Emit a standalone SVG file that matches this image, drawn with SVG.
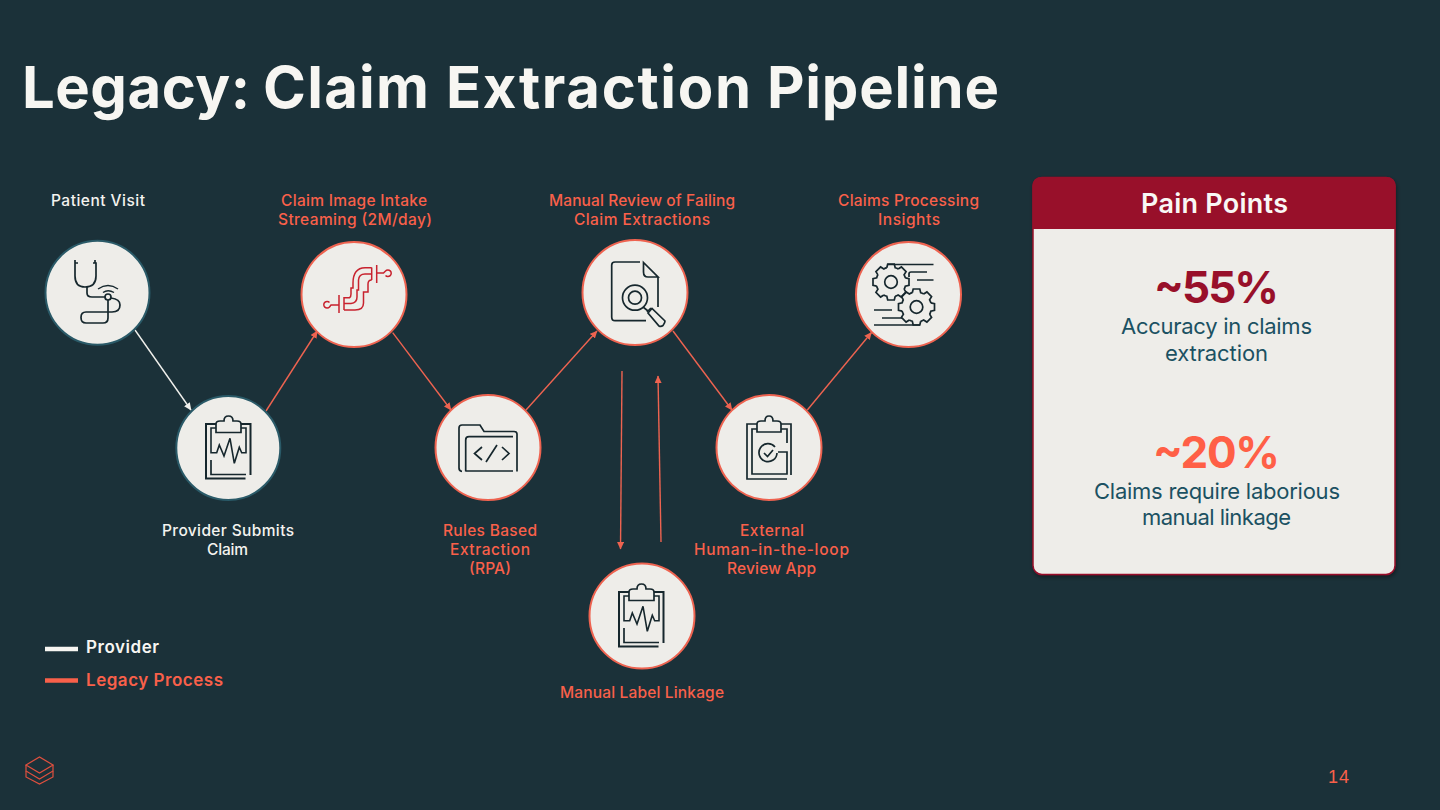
<svg xmlns="http://www.w3.org/2000/svg" width="1440" height="810" viewBox="0 0 1440 810">
<style>
text{font-family:"Inter","Noto Sans","Liberation Sans",sans-serif;letter-spacing:0}
.lb{font-size:15.5px;font-weight:500}
.w{fill:#F4F3EF}.o{fill:#F9604A}
.c{fill:#EEEDE9;stroke-width:2}
.cw{stroke:#2A5A68}.co{stroke:#EE6350}
.ic{fill:none;stroke:#16272D;stroke-width:1.7}
.cn{fill:none;stroke-width:1.4}
.so{stroke:#EE6350}.sw{stroke:#F0F0EC}
</style>
<defs>
<marker id="ao" markerWidth="8" markerHeight="8" refX="7" refY="3.5" orient="auto" markerUnits="userSpaceOnUse"><path d="M0,0L7.5,3.5L0,7z" fill="#EE6350"/></marker>
<marker id="aw" markerWidth="8" markerHeight="8" refX="7" refY="3.5" orient="auto" markerUnits="userSpaceOnUse"><path d="M0,0L7.5,3.5L0,7z" fill="#F0F0EC"/></marker>
<g id="clip" class="ic">
<path d="M216,424H206V478.500H245.500" stroke-width="2"/><path d="M241,424H250.500V475" stroke-width="2"/>
<path d="M216,428H211V452.700H216.700L219.300,445L224,456L230,438.300L234.300,463.300L239.300,447.300L241.700,452.700H246V428H241" stroke-width="1.600"/>
<path d="M211,460V474.500H246"/>
<path d="M216,424Q216,421 220,421H224Q224,416 228.500,416Q233,416 233,421H237Q241,421 241,424V432.500H216Z"/>
</g>
<path id="t" d="M-4.200,-14.300L-3.300,-18H3.300L4.200,-14.300A15,15 0 0 1 7.300,-13.100"/>
<g id="gear" class="ic">
<use href="#t"/><use href="#t" transform="rotate(45)"/><use href="#t" transform="rotate(90)"/><use href="#t" transform="rotate(135)"/><use href="#t" transform="rotate(180)"/><use href="#t" transform="rotate(225)"/><use href="#t" transform="rotate(270)"/><use href="#t" transform="rotate(315)"/>
<circle r="6.300"/>
</g>
<filter id="sh" x="-5%" y="-5%" width="110%" height="110%"><feDropShadow dx="1" dy="2" stdDeviation="2" flood-color="#000" flood-opacity=".4"/></filter>
</defs>
<rect width="1440" height="810" fill="#1B3139"/>
<text y="108" font-size="58" font-weight="700" fill="#F7F6F2"><tspan x="22" textLength="228">Legacy:</tspan> <tspan x="263" textLength="166">Claim</tspan> <tspan x="446" textLength="305">Extraction</tspan> <tspan x="767" textLength="232">Pipeline</tspan></text>

<g id="connectors">
<path class="cn sw" d="M135,330L191,410" marker-end="url(#aw)"/>
<path class="cn so" d="M266,411L317.300,331" marker-end="url(#ao)"/>
<path class="cn so" d="M392.700,332.700L451,410" marker-end="url(#ao)"/>
<path class="cn so" d="M526,410L597,331" marker-end="url(#ao)"/>
<path class="cn so" d="M673,331L732,410" marker-end="url(#ao)"/>
<path class="cn so" d="M807.300,410L871.500,332.500" marker-end="url(#ao)"/>
<path class="cn so" d="M622,371L620.500,549" marker-end="url(#ao)"/>
<path class="cn so" d="M661,542L658,376" marker-end="url(#ao)"/>
</g>

<g id="n-patient">
<circle class="c cw" cx="97.500" cy="292.700" r="52"/>
<g class="ic" stroke-width="2"><path d="M78,263H75V276Q75,287 85,287Q96,287 96,276V263H93M75,260V263M95,260V263"/><path d="M87,287V293Q87,297 92,297H105"/><circle cx="108" cy="297" r="3"/><path d="M111,298Q120,299 120,305Q120,312 112,312H86Q81,312 81,317.500Q81,323 86,323H103Q108,323 108,318V300"/><path d="M98,289Q108,282 118,289M103,292.500Q108,289 114,292.500" stroke-width="1.400"/></g>
<text class="lb w" x="51" y="206" textLength="94">Patient Visit</text>
</g>

<g id="n-provider">
<circle class="c cw" cx="228.300" cy="448" r="52"/>
<use href="#clip"/>
<text class="lb w" x="162" y="536" textLength="132">Provider Submits</text>
<text class="lb w" x="207" y="555" textLength="41">Claim</text>
</g>

<g id="n-intake">
<circle class="c co" cx="354" cy="294.500" r="52.500"/>
<g fill="none" stroke="#C8222E" stroke-width="1.500"><path d="M329.500,302.500A3.300,3.300 0 1 0 329.500,307L331,305H339M339,295V313M344,297V310M376.700,265V283M371.700,267.500V280M376.700,273H383.500L385.500,271A3.300,3.300 0 1 1 385.500,275.500"/>
<path d="M344,297.700H349.500Q351,297 351,294V288H353V283Q353,268 365,267.700H371.700"/>
<path d="M344,310H355Q363.500,310 363.500,303V292H368V284Q368,280 371.700,280"/>
<path d="M344,303.500H351Q357,303 357,297V290H358.500V280Q359,274 365,274H371.700"/></g>
<text class="lb o" x="281" y="206" textLength="146">Claim Image Intake</text>
<text class="lb o" x="278" y="225" textLength="154">Streaming (2M/day)</text>
</g>

<g id="n-rules">
<circle class="c co" cx="488" cy="447.500" r="52.500"/>
<g class="ic"><path d="M462,471.500Q459,471 459,468V428Q459,425 462,425H480L484,431.500H514Q517,431.500 517,434V471.500"/><path d="M465.700,471.500V440Q465.700,436.700 469,436.700H513M465.700,471H513"/><path d="M482,447L474.500,453.500L482,460M486,462L497,445M502,447L509,453.500L502,460"/></g>
<text class="lb o" x="443" y="536" textLength="94">Rules Based</text>
<text class="lb o" x="450" y="555" textLength="80">Extraction</text>
<text class="lb o" x="469" y="574" textLength="42">(RPA)</text>
</g>

<g id="n-review">
<circle class="c co" cx="635" cy="292.500" r="52.500"/>
<g class="ic"><path d="M640,262H615Q611.700,262 611.700,265V317Q611.700,320.700 615,320.700H646"/><path d="M658,277V307M643.500,262.500L658,277H648Q643.500,277 643.500,272Z"/><circle cx="635" cy="297.700" r="12.500"/><circle cx="635" cy="297.700" r="6.500"/><path d="M643,307L648,311"/><path d="M648,313L652,308.500L665,321Q665,323 663,325.500Q661,327 659,326Z"/><path d="M647,312L651,308"/></g>
<text class="lb o" x="549" y="206" textLength="186">Manual Review of Failing</text>
<text class="lb o" x="574" y="225" textLength="136">Claim Extractions</text>
</g>

<g id="n-human">
<circle class="c co" cx="769" cy="447.500" r="52.500"/>
<g class="ic"><path d="M757,424H747V479H787M781,424H791V475"/><path d="M757,429H752V474H787V452H778M781,429H787V443"/><path d="M757,424Q757,421 761,421H765Q765,416 769,416Q773,416 773,421H777Q781,421 781,424V432H757Z"/><path d="M775,447A9,9 0 1 0 777,453"/><path d="M764,453L767.500,456.500L773,450"/></g>
<text class="lb o" x="740" y="536" textLength="64">External</text>
<text class="lb o" x="694" y="555" textLength="155">Human-in-the-loop</text>
<text class="lb o" x="727" y="574" textLength="89">Review App</text>
</g>

<g id="n-insights">
<circle class="c co" cx="908.500" cy="294.500" r="52.500"/>
<use href="#gear" x="891" y="282"/><use href="#gear" x="916.500" y="307"/>
<path class="ic" d="M888,264.500H933.500M909,277V274Q909,272 911,272H927M917,280H933.500M874,310H892M882,318H902M874,325H920"/>
<text class="lb o" x="838" y="206" textLength="141">Claims Processing</text>
<text class="lb o" x="878" y="225" textLength="62">Insights</text>
</g>

<g id="n-linkage">
<circle class="c co" cx="642" cy="616" r="52.500"/>
<use href="#clip" x="413" y="168"/>
<text class="lb o" x="560" y="698" textLength="164">Manual Label Linkage</text>
</g>

<g id="legend">
<path d="M45,649H78" stroke="#F7F6F2" stroke-width="4.500"/><path d="M45,680.500H78" stroke="#F9604A" stroke-width="4.500"/>
<text x="86" y="653" font-size="17" font-weight="600" fill="#F7F6F2" textLength="73">Provider</text>
<text x="86" y="686" font-size="17" font-weight="600" fill="#F9604A" textLength="137">Legacy Process</text>
</g>

<g id="pain-points">
<rect x="1033" y="177.500" width="362" height="397" rx="9" fill="#EEEDE9" stroke="#98102A" stroke-width="1.500" filter="url(#sh)"/>
<path d="M1032.500,229V186Q1032.500,177 1042,177H1386Q1395.500,177 1395.500,186V229Z" fill="#98102A"/>
<text x="1141" y="213" font-size="27" font-weight="600" fill="#F9F8F5" textLength="147">Pain Points</text>
<text x="1154" y="303" font-size="44" font-weight="700" fill="#98102A" textLength="125">~55%</text>
<text x="1121" y="334" font-size="22" fill="#1B5162" textLength="191">Accuracy in claims</text>
<text x="1165" y="361" font-size="22" fill="#1B5162" textLength="103">extraction</text>
<text x="1153" y="468" font-size="44" font-weight="700" fill="#FF5F46" textLength="127">~20%</text>
<text x="1094" y="499" font-size="22" fill="#1B5162" textLength="246">Claims require laborious</text>
<text x="1142" y="525" font-size="22" fill="#1B5162" textLength="149">manual linkage</text>
</g>

<g id="logo" fill="none" stroke="#E0503F" stroke-width="1.200">
<path d="M26,765L39.500,757L53,765L39.500,773Z"/><path d="M26,765V771L39.500,779L53,771V765"/><path d="M26,771V777L39.500,784L53,777V771"/>
</g>
<text x="1328" y="783" font-size="18" fill="#F9604A" style="font-family:'Liberation Sans',sans-serif" textLength="21">14</text>
</svg>
